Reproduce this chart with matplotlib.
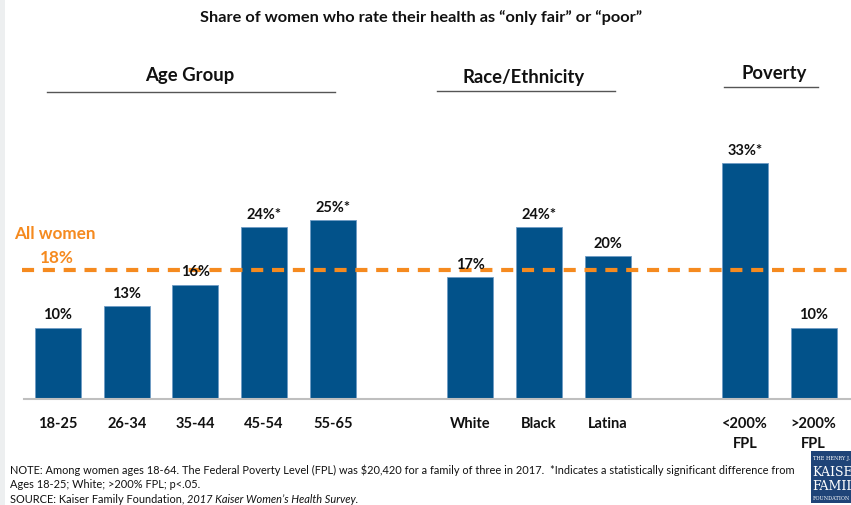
import matplotlib.pyplot as plt
from matplotlib.lines import Line2D
from matplotlib.patches import Rectangle

categories = ['18-25', '26-34', '35-44', '45-54', '55-65',
              'White', 'Black', 'Latina',
              '<200%\nFPL', '>200%\nFPL']
values = [10, 13, 16, 24, 25, 17, 24, 20, 33, 10]
value_labels = ['10%', '13%', '16%', '24%*', '25%*',
                '17%', '24%*', '20%', '33%*', '10%']
slots = [0, 1, 2, 3, 4, 6, 7, 8, 10, 11]
all_women = 18

groups = ['Age Group', 'Race/Ethnicity', 'Poverty']

BLUE = '#02528A'
ORANGE = '#F58A1F'
W, H = 851, 506

plt.rcParams['font.family'] = ['Lato', 'DejaVu Sans']

fig = plt.figure(figsize=(W / 100, H / 100), dpi=100)


def fx(x):
    return x / W


def fy(y):
    return 1 - y / H


# axes placed in pixel space: x 24..851, y 100..400
ax = fig.add_axes([fx(24), fy(400), fx(851 - 24), (400 - 100) / H])
ax.set_xlim((24 - 58) / 68.7, (851 - 58) / 68.7)
ax.set_ylim(0, 300 / 7.15)

ax.bar(slots, values, width=0.67, color=BLUE, edgecolor='#6F9CC4', linewidth=0.6, zorder=2)
ax.axhline(all_women, xmin=-0.003, color=ORANGE, lw=3, ls=(0, (2.9, 2.1)), zorder=3, clip_on=False)

for s, v, lab in zip(slots, values, value_labels):
    ax.annotate(lab, (s, v), xytext=(0, 4.5), textcoords='offset points',
                ha='center', va='bottom', fontsize=10.5, fontweight='bold', color='#111111')

ax.set_xticks(slots)
ax.set_xticklabels(categories, fontsize=10.5, fontweight='bold', color='#111111', linespacing=1.6, va='top')
ax.tick_params(axis='x', length=0, pad=12)
ax.set_yticks([])
for side in ['top', 'right', 'left']:
    ax.spines[side].set_visible(False)
ax.spines['bottom'].set_color('#BFBFBF')
ax.spines['bottom'].set_linewidth(1.5)

# all women label
fig.text(fx(55), fy(234), 'All women', color=ORANGE, fontsize=12.3, fontweight='bold', ha='center', va='center')
fig.text(fx(57), fy(258), '18%', color=ORANGE, fontsize=12.3, fontweight='bold', ha='center', va='center')

# title and group headers
fig.text(fx(421), fy(18), 'Share of women who rate their health as \u201conly fair\u201d or \u201cpoor\u201d',
         fontsize=11.8, fontweight='bold', ha='center', va='center', color='#111111')
header_x = [190, 524, 774]
header_y = [76, 78, 74]
line_spans = [(47, 335), (437, 615), (724, 818)]
line_y = [93, 92, 88]
for g, hx, hy, (x0, x1), ly in zip(groups, header_x, header_y, line_spans, line_y):
    fig.text(fx(hx), fy(hy), g, fontsize=13.3, fontweight='bold', ha='center', va='center', color='#111111')
    fig.add_artist(Line2D([fx(x0), fx(x1)], [fy(ly), fy(ly)], color='#555555', lw=1))

# left edge band
fig.add_artist(Rectangle((0, 0), fx(5), 1, color='#EDEFF0', lw=0))

# notes
note_kw = dict(fontsize=7.9, ha='left', va='center', color='#111111')
fig.text(fx(10), fy(470), 'NOTE: Among women ages 18-64. The Federal Poverty Level (FPL) was $20,420 for a family of three in 2017.  '
         '*Indicates a statistically significant difference from', **note_kw)
fig.text(fx(10), fy(485), 'Ages 18-25; White; >200% FPL; p<.05.', **note_kw)
src = fig.text(fx(10), fy(500), 'SOURCE: Kaiser Family Foundation, ', **note_kw)
renderer = fig.canvas.get_renderer()
bb = src.get_window_extent(renderer)
fig.text(bb.x1 / W, fy(500), '2017 Kaiser Women\u2019s Health Survey.', style='italic', **note_kw)

# logo
fig.add_artist(Rectangle((fx(811), fy(504)), fx(45), (504 - 452) / H, color='#1F4478', lw=0))
logo_kw = dict(family='DejaVu Serif', color='white', ha='left', va='center')
fig.text(fx(813), fy(459), 'THE HENRY J.', fontsize=3.6, **logo_kw)
fig.text(fx(812), fy(472), 'KAISER', fontsize=9, **logo_kw)
fig.text(fx(812), fy(487), 'FAMILY', fontsize=9, **logo_kw)
fig.text(fx(813), fy(499), 'FOUNDATION', fontsize=3.6, **logo_kw)

fig.savefig('out.png', dpi=100)
